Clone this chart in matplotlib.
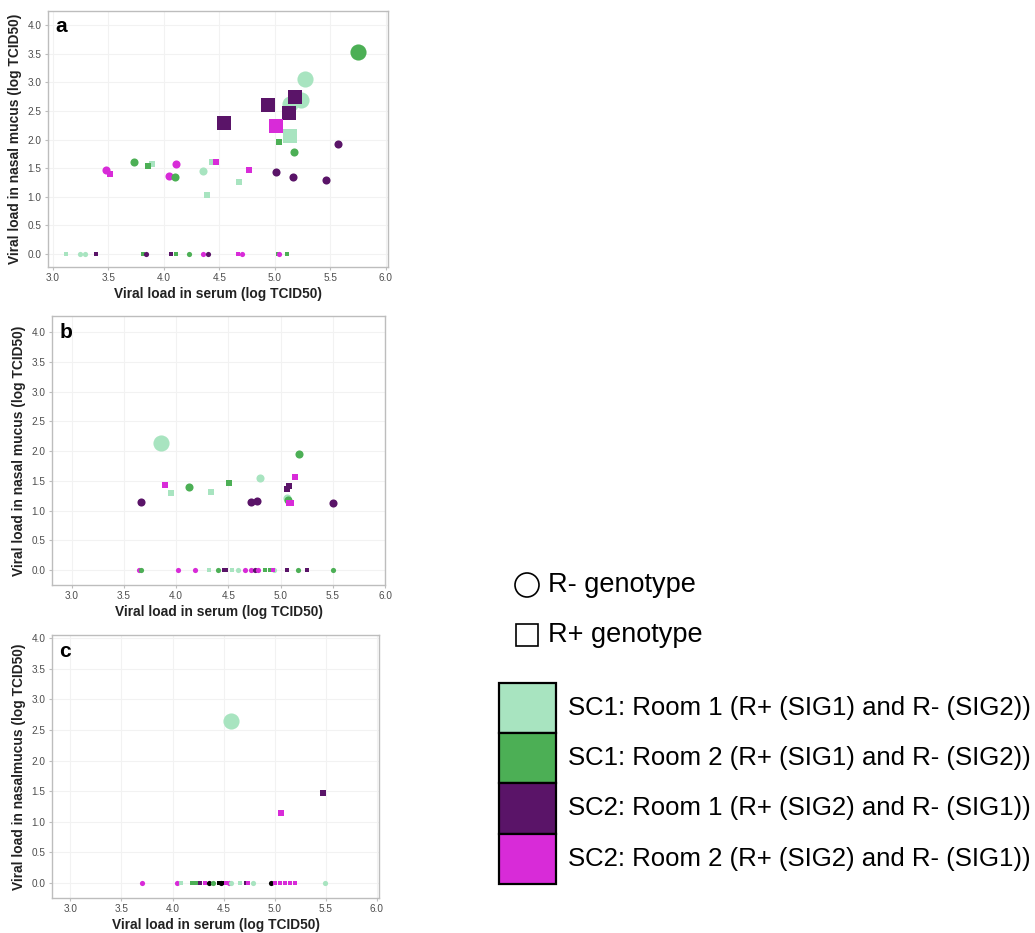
# Viral load in serum vs nasal mucus, three panels (a, b, c) + shared legend
import matplotlib.pyplot as plt
from matplotlib.patches import Circle, Rectangle

plt.rcParams['font.family'] = ['Liberation Sans', 'DejaVu Sans']

# %% Data
# group codes: L1 = SC1 room 1, G2 = SC1 room 2, P1 = SC2 room 1, M2 = SC2 room 2, K = unassigned
# shape codes: c = R- genotype, s = R+ genotype

a_serum = [5.75, 5.27, 5.14, 5.24, 5.18, 4.94, 5.13, 4.54, 5.01, 5.14, 5.04, 5.57, 5.17,
           4.43, 4.47, 4.35, 4.77, 5.01, 5.16, 5.46, 4.68, 4.39, 3.48, 3.51, 3.73, 3.89,
           3.86, 4.11, 4.05, 4.10,
           3.12, 3.24, 3.29, 3.39, 3.81, 3.84, 4.06, 4.11, 4.23, 4.35, 4.40, 4.67, 4.70,
           5.03, 5.04, 5.11]
a_mucus = [3.53, 3.06, 2.62, 2.70, 2.74, 2.60, 2.47, 2.29, 2.24, 2.06, 1.95, 1.92, 1.79,
           1.60, 1.60, 1.45, 1.47, 1.44, 1.35, 1.30, 1.25, 1.03, 1.47, 1.40, 1.61, 1.57,
           1.54, 1.57, 1.37, 1.34,
           0, 0, 0, 0, 0, 0, 0, 0, 0, 0, 0, 0, 0, 0, 0, 0]
a_group = ['G2', 'L1', 'L1', 'L1', 'P1', 'P1', 'P1', 'P1', 'M2', 'L1', 'G2', 'P1', 'G2',
           'L1', 'M2', 'L1', 'M2', 'P1', 'P1', 'P1', 'L1', 'L1', 'M2', 'M2', 'G2', 'L1',
           'G2', 'M2', 'M2', 'G2',
           'L1', 'L1', 'L1', 'P1', 'G2', 'P1', 'P1', 'G2', 'G2', 'M2', 'P1', 'M2', 'M2',
           'G2', 'M2', 'G2']
a_shape = ['c', 'c', 'c', 'c', 's', 's', 's', 's', 's', 's', 's', 'c', 'c',
           's', 's', 'c', 's', 'c', 'c', 'c', 's', 's', 'c', 's', 'c', 's',
           's', 'c', 'c', 'c',
           's', 'c', 'c', 's', 's', 'c', 's', 's', 'c', 'c', 'c', 's', 'c',
           's', 'c', 's']

b_serum = [3.85, 5.18, 3.89, 3.95, 4.12, 3.66, 4.51, 4.33, 4.80, 5.14, 5.08, 5.06, 4.72,
           4.77, 5.06, 5.07, 5.08, 5.10, 5.50,
           3.64, 3.66, 4.02, 4.18, 4.31, 4.40, 4.46, 4.48, 4.53, 4.59, 4.66, 4.72, 4.75,
           4.78, 4.85, 4.90, 4.94, 4.93, 5.06, 5.17, 5.25, 5.50]
b_mucus = [2.14, 1.95, 1.43, 1.29, 1.40, 1.15, 1.46, 1.31, 1.54, 1.57, 1.42, 1.36, 1.15,
           1.16, 1.22, 1.17, 1.12, 1.12, 1.13,
           0, 0, 0, 0, 0, 0, 0, 0, 0, 0, 0, 0, 0, 0, 0, 0, 0, 0, 0, 0, 0, 0]
b_group = ['L1', 'G2', 'M2', 'L1', 'G2', 'P1', 'G2', 'L1', 'L1', 'M2', 'P1', 'P1', 'P1',
           'P1', 'L1', 'G2', 'M2', 'M2', 'P1',
           'M2', 'G2', 'M2', 'M2', 'L1', 'G2', 'P1', 'P1', 'L1', 'L1', 'M2', 'M2', 'P1',
           'M2', 'G2', 'G2', 'L1', 'M2', 'P1', 'G2', 'P1', 'G2']
b_shape = ['c', 'c', 's', 's', 'c', 'c', 's', 's', 'c', 's', 's', 's', 'c',
           'c', 'c', 'c', 's', 's', 'c',
           'c', 'c', 'c', 'c', 's', 'c', 's', 's', 's', 'c', 'c', 'c', 'c',
           'c', 's', 's', 'c', 's', 's', 'c', 's', 'c']

c_serum = [4.57, 5.47, 5.06,
           3.70, 4.04, 4.08, 4.19, 4.22, 4.25, 4.27, 4.32, 4.36, 4.40, 4.45, 4.47, 4.49,
           4.52, 4.55, 4.57, 4.66, 4.72, 4.74, 4.79, 4.96, 5.00, 5.05, 5.10, 5.15, 5.20, 5.49]
c_mucus = [2.65, 1.47, 1.15,
           0, 0, 0, 0, 0, 0, 0, 0, 0, 0, 0, 0, 0, 0, 0, 0, 0, 0, 0, 0, 0, 0, 0, 0, 0, 0, 0]
c_group = ['L1', 'P1', 'M2',
           'M2', 'M2', 'L1', 'G2', 'G2', 'G2', 'P1', 'M2', 'K', 'G2', 'K', 'K', 'K',
           'M2', 'M2', 'L1', 'L1', 'P1', 'M2', 'L1', 'K', 'M2', 'M2', 'M2', 'M2', 'M2', 'L1']
c_shape = ['c', 's', 's',
           'c', 'c', 's', 's', 's', 's', 's', 's', 'c', 'c', 's', 'c', 's',
           's', 'c', 'c', 's', 's', 's', 'c', 'c', 's', 's', 's', 's', 's', 'c']

group_keys = ['L1', 'G2', 'P1', 'M2']
group_labels = ['SC1: Room 1 (R+ (SIG1) and R- (SIG2))',
                'SC1: Room 2 (R+ (SIG1) and R- (SIG2))',
                'SC2: Room 1 (R+ (SIG2) and R- (SIG1))',
                'SC2: Room 2 (R+ (SIG2) and R- (SIG1))']
shape_labels = ['R- genotype', 'R+ genotype']

# %% Styles
colors = {'L1': '#a8e4c0', 'G2': '#4caf55', 'P1': '#5a1468', 'M2': '#d82bd8', 'K': '#000000'}
grid_col = '#f2f2f2'
tick_col = '#4d4d4d'


def marker_size(y, shape):
    # point size grows with the nasal load class
    if y == 0:
        s = 14
    elif y < 2:
        s = 34
    else:
        s = 135
    return s * (0.72 if shape == 's' else 1.0)


def plot_panel(ax, serum, mucus, group, shape, letter, xlim, ylim, ylabel):
    for x, y, g, sh in zip(serum, mucus, group, shape):
        ax.scatter(x, y, s=marker_size(y, sh), c=colors[g],
                   marker='o' if sh == 'c' else 's', linewidths=0, zorder=3)
    ax.set_xlim(*xlim)
    ax.set_ylim(*ylim)
    ax.set_xticks([3.0, 3.5, 4.0, 4.5, 5.0, 5.5, 6.0])
    ax.set_yticks([0.0, 0.5, 1.0, 1.5, 2.0, 2.5, 3.0, 3.5, 4.0])
    ax.set_xticklabels([f'{v:.1f}' for v in ax.get_xticks()])
    ax.set_yticklabels([f'{v:.1f}' for v in ax.get_yticks()])
    ax.grid(True, color=grid_col, lw=0.8, zorder=0)
    ax.set_axisbelow(True)
    for sp in ax.spines.values():
        sp.set_color('#bdbdbd')
        sp.set_linewidth(1.0)
    ax.tick_params(colors='#bdbdbd', labelcolor=tick_col, labelsize=7.2, length=2.5, width=0.8, pad=2)
    ax.set_xlabel('Viral load in serum (log TCID50)', fontsize=9.9, fontweight='bold',
                  color='#222222', labelpad=3)
    ax.set_ylabel(ylabel, fontsize=9.9, fontweight='bold', color='#222222', labelpad=4)
    ax.text(0.022, 0.975, letter, transform=ax.transAxes, fontsize=15, fontweight='bold',
            va='top', ha='left')


# %% Figure
W, H = 1035, 933
fig = plt.figure(figsize=(W / 100, H / 100), dpi=100)


def px_axes(left, top, right, bottom):
    return fig.add_axes([left / W, 1 - bottom / H, (right - left) / W, (bottom - top) / H])


# overlay in pixel units for the hand-built legend
ax_leg = fig.add_axes([0, 0, 1, 1], zorder=-1)
ax_leg.set_xlim(0, W)
ax_leg.set_ylim(H, 0)
ax_leg.axis('off')

ax_a = px_axes(48, 11, 388, 267)
ax_b = px_axes(52, 316, 385, 585)
ax_c = px_axes(52, 635, 379, 898)

plot_panel(ax_a, a_serum, a_mucus, a_group, a_shape, 'a', (2.955, 6.02), (-0.23, 4.25),
           'Viral load in nasal mucus (log TCID50)')
plot_panel(ax_b, b_serum, b_mucus, b_group, b_shape, 'b', (2.81, 6.0), (-0.25, 4.27),
           'Viral load in nasal mucus (log TCID50)')
plot_panel(ax_c, c_serum, c_mucus, c_group, c_shape, 'c', (2.82, 6.02), (-0.245, 4.05),
           'Viral load in nasalmucus (log TCID50)')

# legend: genotype shapes
ax_leg.add_patch(Circle((527, 585), 12, facecolor='white', edgecolor='black', lw=1.2))
ax_leg.add_patch(Rectangle((516, 624), 22, 22, facecolor='white', edgecolor='black', lw=1.2))
for i, lab in enumerate(shape_labels):
    ax_leg.text(548, 585 + 50 * i, lab, fontsize=19.5, va='center', ha='left')

# legend: shedder/contact groups
box_top, box_h = 683, 50.2
for i, (k, lab) in enumerate(zip(group_keys, group_labels)):
    y0 = box_top + box_h * i
    ax_leg.add_patch(Rectangle((499, y0), 57, box_h, facecolor=colors[k],
                               edgecolor='black', lw=1.6))
    ax_leg.text(568, y0 + box_h / 2, lab, fontsize=18.5, va='center', ha='left')

fig.savefig('out.png', dpi=100)
